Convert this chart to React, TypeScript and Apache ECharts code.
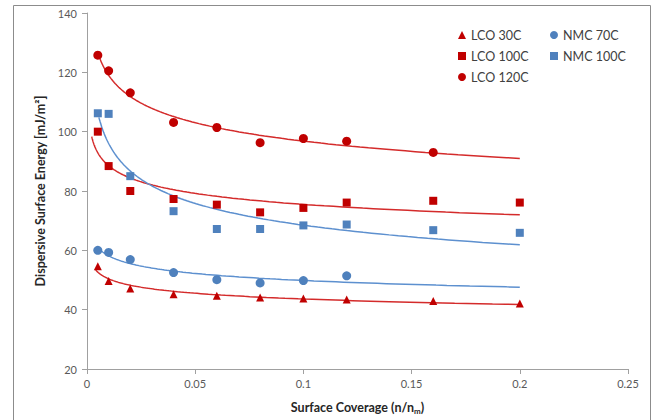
import React, { useEffect, useRef } from "react";
import * as echarts from "echarts";

const xValues = [0.005, 0.01, 0.02, 0.04, 0.06, 0.08, 0.1, 0.12, 0.16, 0.2];
const lco30 = [54.6, 49.7, 47.1, 45.2, 44.7, 44.1, 43.8, 43.4, 42.9, 42.1];
const lco100 = [100, 88.4, 80, 77.3, 75.4, 72.8, 74.3, 76.1, 76.7, 76.1];
const lco120 = [125.8, 120.5, 113.1, 103.1, 101.4, 96.3, 97.7, 96.8, 93];
const nmc70 = [60, 59.3, 56.9, 52.5, 50.1, 49, 49.8, 51.4];
const nmc100 = [106.2, 106, 85, 73.2, 67.2, 67.2, 68.4, 68.7, 66.8, 65.9];

const seriesNames = ["LCO 30C", "LCO 100C", "LCO 120C", "NMC 70C", "NMC 100C"];
const seriesValues = [lco30, lco100, lco120, nmc70, nmc100];
const seriesSymbols = ["triangle", "rect", "circle", "circle", "rect"];
const trendStart = [0.004, 0.0022, 0.005, 0.005, 0.0055];
const trendEnd = [0.2, 0.2, 0.2, 0.2, 0.2];
const xTicks = { min: 0, max: 0.25, interval: 0.05 };
const yTicks = { min: 20, max: 140, interval: 20 };

const RED = "#C00000";
const BLUE = "#4F81BD";
const seriesColors = [RED, RED, RED, BLUE, BLUE];
const trendColors = ["#D42B2B", "#D42B2B", "#D42B2B", "#5D90CF", "#5D90CF"];
const symbolSizes = [8, 8, 9, 9, 8];

function powerFit(xs: number[], ys: number[]) {
  const n = ys.length;
  let sx = 0, sy = 0;
  for (let i = 0; i < n; i++) {
    sx += Math.log(xs[i]);
    sy += Math.log(ys[i]);
  }
  const mx = sx / n, my = sy / n;
  let sxy = 0, sxx = 0;
  for (let i = 0; i < n; i++) {
    const dx = Math.log(xs[i]) - mx;
    sxy += dx * (Math.log(ys[i]) - my);
    sxx += dx * dx;
  }
  const b = sxy / sxx;
  const a = Math.exp(my - b * mx);
  return { a, b };
}

function trendPoints(k: number) {
  const vals = seriesValues[k];
  const { a, b } = powerFit(xValues.slice(0, vals.length), vals);
  const pts: number[][] = [];
  const s = trendStart[k], e = trendEnd[k];
  const steps = 120;
  for (let i = 0; i <= steps; i++) {
    const x = s * Math.pow(e / s, i / steps);
    pts.push([x, a * Math.pow(x, b)]);
  }
  return pts;
}

const FONT = "Lato, 'Open Sans', sans-serif";

export default function App() {
  const ref = useRef<HTMLDivElement>(null);
  useEffect(() => {
    document.body.style.margin = "0";
    if (!ref.current) return;
    const chart = echarts.init(ref.current, undefined, { renderer: "svg" });

    const scatterSeries = seriesNames.map((name, k) => ({
      name,
      type: "scatter",
      symbol: seriesSymbols[k],
      symbolSize: symbolSizes[k],
      itemStyle: { color: seriesColors[k], opacity: 1 },
      data: seriesValues[k].map((v, i) => [xValues[i], v]),
      z: 3,
    }));
    const trendSeries = seriesNames.map((name, k) => ({
      name: name + " trend",
      type: "line",
      showSymbol: false,
      symbol: "none",
      smooth: false,
      lineStyle: { color: trendColors[k], width: 1.5 },
      data: trendPoints(k),
      z: 2,
      silent: true,
    }));

    const legendText = { color: "#404040", fontSize: 12.5, fontFamily: FONT, lineHeight: 14 };

    chart.setOption({
      animation: false,
      backgroundColor: "#ffffff",
      textStyle: { fontFamily: FONT },
      grid: { left: 87, right: 26, top: 13, bottom: 51, containLabel: false },
      legend: [
        {
          orient: "vertical",
          left: 453,
          top: 23,
          itemWidth: 8,
          itemHeight: 8,
          itemGap: 7,
          textStyle: legendText,
          data: [
            { name: "LCO 30C", icon: "triangle" },
            { name: "LCO 100C", icon: "rect" },
            { name: "LCO 120C", icon: "circle" },
          ],
        },
        {
          orient: "vertical",
          left: 545,
          top: 23,
          itemWidth: 8,
          itemHeight: 8,
          itemGap: 7,
          textStyle: legendText,
          data: [
            { name: "NMC 70C", icon: "circle" },
            { name: "NMC 100C", icon: "rect" },
          ],
        },
      ],
      xAxis: {
        type: "value",
        min: xTicks.min,
        max: xTicks.max,
        interval: xTicks.interval,
        name: "{a|Surface Coverage (n/n}{s|m}{a|)}",
        nameLocation: "middle",
        nameGap: 30,
        nameTextStyle: {
          rich: {
            a: { fontSize: 12.5, fontWeight: "bold", color: "#262626", fontFamily: FONT, lineHeight: 16, verticalAlign: "middle" },
            s: { fontSize: 8, fontWeight: "bold", color: "#262626", fontFamily: FONT, lineHeight: 16, verticalAlign: "bottom", padding: [6, 0, 0, 0] },
          },
        },
        axisLine: { show: true, lineStyle: { color: "#A0A0A0", width: 1 } },
        axisTick: { show: true, inside: false, length: 5, lineStyle: { color: "#A0A0A0" } },
        splitLine: { show: false },
        axisLabel: {
          color: "#595959",
          fontSize: 11,
          margin: 9,
          fontFamily: FONT,
          formatter: (v: number) => String(+v.toFixed(2)),
        },
      },
      yAxis: {
        type: "value",
        min: yTicks.min,
        max: yTicks.max,
        interval: yTicks.interval,
        name: "Dispersive Surface Energy [mJ/m²]",
        nameLocation: "middle",
        nameRotate: 90,
        nameGap: 40,
        nameTextStyle: { fontSize: 12.5, fontWeight: "bold", color: "#262626", fontFamily: FONT },
        axisLine: { show: true, lineStyle: { color: "#A0A0A0", width: 1 } },
        axisTick: { show: true, inside: false, length: 5, lineStyle: { color: "#A0A0A0" } },
        splitLine: { show: false },
        axisLabel: { color: "#595959", fontSize: 11, margin: 10, fontFamily: FONT },
      },
      graphic: [
        {
          type: "rect",
          silent: true,
          shape: { x: 13.5, y: 5.5, width: 637, height: 430 },
          style: { fill: "none", stroke: "#8C8C8C", lineWidth: 1 },
        },
      ],
      series: [...trendSeries, ...scatterSeries],
    });
    return () => chart.dispose();
  }, []);
  return <div ref={ref} style={{ width: 654, height: 420 }} />;
}
